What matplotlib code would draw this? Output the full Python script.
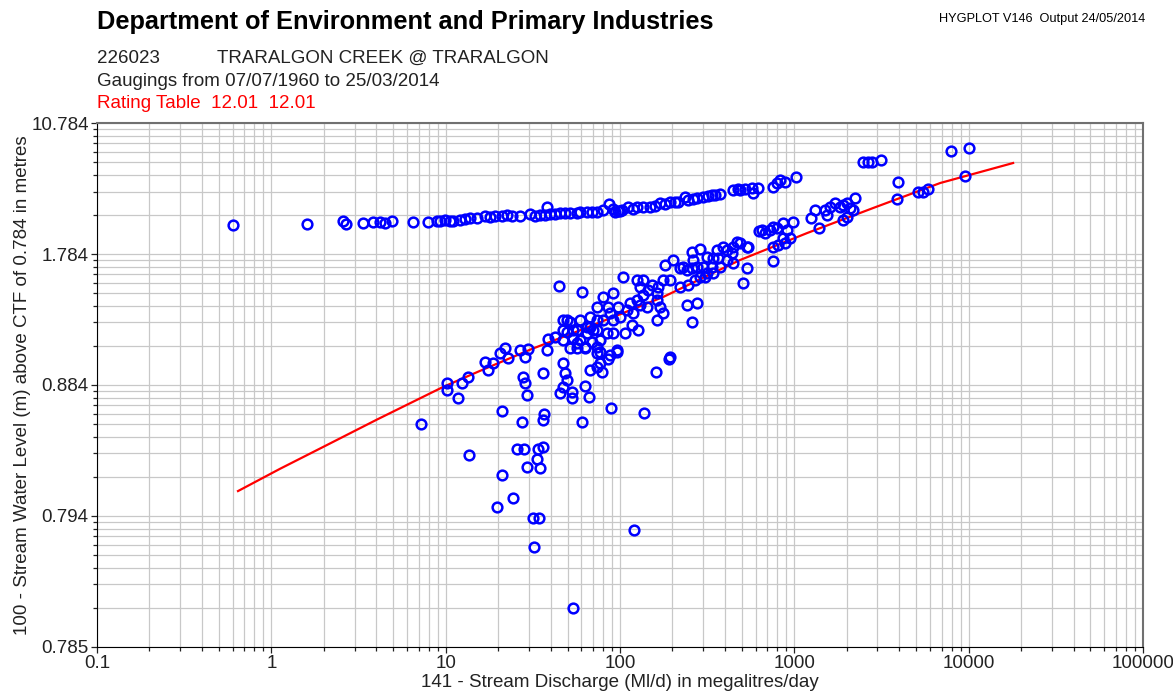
import numpy as np
import matplotlib
matplotlib.use("Agg")
import matplotlib.pyplot as plt
from matplotlib.ticker import FixedLocator, FuncFormatter, LogLocator

plt.rcParams["font.family"] = ["Liberation Sans", "DejaVu Sans"]

CTF = 0.784

# rating table 12.01 (discharge Ml/d, level m)
rating_q = [0.644, 1.12, 2.03, 4.04, 9.66, 15.7, 31.7, 53.8, 177, 489, 1184, 2832, 6870, 17990]
rating_h = [0.7995, 0.8069, 0.8182, 0.8385, 0.8806, 0.912, 0.974, 1.033, 1.254, 1.684,
            2.229, 3.028, 4.267, 5.734]

# gaugings sitting on the upper line
upper_q = [0.60, 1.60, 2.58, 2.68, 3.36, 3.83, 4.20, 4.49, 4.92, 6.50,
           7.93, 8.93, 9.29, 9.93, 11.0, 12.1, 13.8, 15.1, 16.8, 18.0,
           21.1, 24.0, 26.7, 30.5, 32.6, 38.2, 37.2, 42.4, 45.3, 51.8,
           56.7, 59.0, 64.7, 73.9, 80.0, 86.5, 91.2, 93.7, 100, 103,
           111, 125, 136, 149, 170, 194, 215, 236, 246, 277,
           300, 337, 375, 445, 476, 489, 573, 581, 620, 755,
           796, 830, 885, 1024, 2483, 2650, 2794, 3148, 7943, 10070,
           10.6, 12.9, 19.2, 22.5, 34.8, 39.7, 48.4, 69.2, 97.5, 119,
           159, 182, 207, 263, 320, 351, 522]
upper_h = [2.44, 2.47, 2.57, 2.47, 2.50, 2.53, 2.53, 2.50, 2.57, 2.53,
           2.53, 2.57, 2.57, 2.60, 2.57, 2.60, 2.66, 2.66, 2.73, 2.70,
           2.73, 2.73, 2.73, 2.80, 2.73, 3.07, 2.77, 2.80, 2.84, 2.84,
           2.84, 2.88, 2.88, 2.88, 2.95, 3.19, 2.99, 2.88, 2.92, 2.95,
           3.07, 3.07, 3.07, 3.07, 3.24, 3.28, 3.28, 3.51, 3.37, 3.46,
           3.51, 3.60, 3.65, 3.86, 3.92, 3.86, 3.97, 3.70, 3.97, 4.03,
           4.28, 4.47, 4.34, 4.65, 5.82, 5.82, 5.82, 6.00, 6.90, 7.23,
           2.57, 2.63, 2.73, 2.77, 2.77, 2.80, 2.84, 2.88, 2.92, 2.99,
           3.11, 3.19, 3.28, 3.41, 3.56, 3.60, 3.92]

# gaugings around the rating curve
lower_q = [7.23, 10.2, 10.2, 11.8, 12.4, 13.4, 13.6, 16.8, 18.7, 17.5,
           20.5, 21.9, 22.8, 21.1, 21.1, 19.7, 24.4, 26.7, 28.6, 29.7,
           27.8, 28.6, 29.3, 27.4, 25.7, 28.2, 29.3, 33.4, 34.8, 33.9,
           36.2, 36.2, 36.7, 31.7, 34.4, 32.1, 53.8, 120, 36.2, 38.2,
           38.7, 42.4, 44.8, 47.2, 47.2, 48.4, 49.8, 47.2, 45.3, 53.1,
           53.1, 49.8, 51.8, 51.8, 53.8, 56.7, 56.7, 59.0, 59.0, 60.7,
           60.7, 63.1, 63.1, 64.7, 66.5, 67.3, 67.3, 69.2, 73.9, 73.9,
           73.9, 73.9, 73.9, 76.9, 78.9, 85.5, 88.9, 96.2, 137, 161,
           191, 47.2, 49.8, 53.8, 64.7, 67.3, 70.1, 73.9, 76.9, 80.0,
           84.3, 87.7, 87.7, 91.2, 91.2, 96.2, 100, 107, 56.7, 63.1,
           76.9, 47.2, 194, 80.0, 85.5, 91.2, 97.5, 104, 110, 114,
           117, 119, 125, 125, 127, 130, 130, 136, 136, 143,
           145, 153, 163, 163, 163, 166, 170, 177, 177, 182,
           194, 202, 221, 221, 230, 243, 243, 246, 259, 259,
           259, 263, 270, 277, 277, 288, 288, 300, 308, 316,
           316, 337, 342, 342, 361, 365, 375, 391, 411, 411,
           440, 445, 445, 470, 508, 536, 543, 628, 653, 680,
           726, 755, 796, 863, 984, 910, 863, 946, 885, 807,
           755, 755, 1247, 1315, 1387, 1503, 1542, 1604, 1714, 1832,
           1905, 2009, 2089, 2234, 2173, 2009, 1905, 536, 489, 3945,
           3890, 5130, 5480, 5860, 9550]
lower_h = [0.8344, 0.8876, 0.8756, 0.8636, 0.8876, 0.899, 0.8132, 0.934, 0.931, 0.914,
           0.959, 0.976, 0.945, 0.8473, 0.8046, 0.7957, 0.7977, 0.969, 0.948, 0.972,
           0.899, 0.8876, 0.8679, 0.8362, 0.8165, 0.8165, 0.8077, 0.8112, 0.8072, 0.8165,
           0.8176, 0.838, 0.8441, 0.79366, 0.79366, 0.7898, 0.78599, 0.79181, 0.9075, 0.969,
           1.008, 1.016, 1.354, 1.005, 0.931, 0.9075, 0.893, 0.8806, 0.8709, 0.8725,
           0.8636, 1.038, 1.087, 0.976, 1.012, 1.047, 0.976, 1.097, 1.005, 1.297,
           0.8362, 0.976, 0.8823, 1.033, 0.865, 1.061, 0.914, 0.997, 1.178, 1.047,
           0.979, 0.959, 0.921, 0.931, 0.910, 0.942, 0.8507, 0.963, 0.8451, 0.910,
           0.942, 1.097, 1.097, 1.047, 1.061, 1.114, 1.047, 1.097, 1.005, 1.097,
           1.033, 1.138, 0.953, 1.097, 1.033, 0.969, 1.114, 1.033, 0.993, 0.979,
           0.963, 1.047, 0.948, 1.254, 1.178, 1.288, 1.178, 1.451, 1.158, 1.207,
           1.071, 1.138, 1.417, 1.230, 1.047, 1.344, 1.192, 1.417, 1.270, 1.178,
           1.315, 1.364, 1.288, 1.230, 1.097, 1.344, 1.178, 1.417, 1.138, 1.608,
           1.417, 1.684, 1.566, 1.344, 1.580, 1.539, 1.192, 1.364, 1.820, 1.566,
           1.087, 1.684, 1.417, 1.580, 1.207, 1.876, 1.451, 1.580, 1.451, 1.733,
           1.500, 1.580, 1.716, 1.500, 1.857, 1.716, 1.580, 1.915, 1.857, 1.684,
           1.802, 1.915, 1.639, 2.019, 1.385, 1.566, 1.915, 2.282, 2.309, 2.230,
           2.309, 2.391, 2.363, 2.508, 2.53, 2.309, 2.109, 2.109, 1.997, 1.955,
           1.915, 1.668, 2.667, 2.95, 2.363, 2.95, 2.77, 3.07, 3.24, 3.07,
           3.15, 3.24, 3.03, 3.46, 2.95, 2.70, 2.60, 1.915, 1.997, 4.34,
           3.41, 3.75, 3.75, 3.92, 4.72]

x_ticks = [0.1, 1, 10, 100, 1000, 10000, 100000]
level_ticks = [CTF + 10.0 ** k for k in range(-3, 2)]
level_minor = [CTF + m * 10.0 ** k for k in range(-3, 1) for m in range(2, 10)]


def to_scale(h):
    return np.log10(np.clip(np.asarray(h, dtype=float) - CTF, 1e-9, None))


def from_scale(v):
    return 10.0 ** np.asarray(v, dtype=float) + CTF


fig = plt.figure(figsize=(11.73, 6.93), dpi=100)
ax = fig.add_axes([0.0827, 0.0664, 0.8917, 0.7561])
ax.set_xscale("log")
ax.set_yscale("function", functions=(to_scale, from_scale))

ax.plot(rating_q, rating_h, color="red", lw=1.6, zorder=3)
ax.plot(upper_q + lower_q, upper_h + lower_h, "o", ms=7, mfc="none",
        mec="#0000ff", mew=1.8, zorder=4, clip_on=False)

ax.set_xlim(0.1, 100000)
ax.set_ylim(level_ticks[0], level_ticks[-1])

ax.xaxis.set_major_locator(FixedLocator(x_ticks))
ax.xaxis.set_minor_locator(LogLocator(base=10, subs=range(2, 10), numticks=50))
ax.xaxis.set_major_formatter(FuncFormatter(lambda v, p: f"{v:g}"))
ax.yaxis.set_major_locator(FixedLocator(level_ticks))
ax.yaxis.set_minor_locator(FixedLocator(level_minor))
ax.yaxis.set_major_formatter(FuncFormatter(lambda v, p: f"{v:.3f}"))

ax.grid(True, which="both", color="#c8c8c8", lw=0.9)
ax.set_axisbelow(True)
ax.tick_params(which="both", direction="out", labelsize=13.5, colors="#222222",
               length=4, width=0.9, pad=2)
ax.tick_params(which="minor", length=3)
for side in ("top", "right"):
    ax.spines[side].set_color("#707070")
    ax.spines[side].set_linewidth(1.5)
for side in ("left", "bottom"):
    ax.spines[side].set_color("black")

ax.set_xlabel("141 - Stream Discharge (Ml/d) in megalitres/day", fontsize=13.5, color="#222222")
ax.set_ylabel("100 - Stream Water Level (m) above CTF of 0.784 in metres", fontsize=13.5, color="#222222")
ax.xaxis.label.set_verticalalignment("center")
ax.yaxis.label.set_verticalalignment("center")
ax.xaxis.set_label_coords(0.5, -0.067)
ax.yaxis.set_label_coords(-0.0717, 0.5)

fig.text(0.0827, 0.968, "Department of Environment and Primary Industries",
         fontsize=18.3, fontweight="bold", va="center")
fig.text(0.0827, 0.916, "226023", fontsize=13.5, va="center", color="#222222")
fig.text(0.185, 0.916, "TRARALGON CREEK @ TRARALGON", fontsize=13.5, va="center", color="#222222")
fig.text(0.0827, 0.883, "Gaugings from 07/07/1960 to 25/03/2014", fontsize=13.5, va="center", color="#222222")
fig.text(0.0827, 0.850, "Rating Table  12.01  12.01", fontsize=13.5, va="center", color="red")
fig.text(0.976, 0.973, "HYGPLOT V146  Output 24/05/2014", fontsize=9.2, ha="right", va="center")

fig.savefig("out.png", dpi=100)
